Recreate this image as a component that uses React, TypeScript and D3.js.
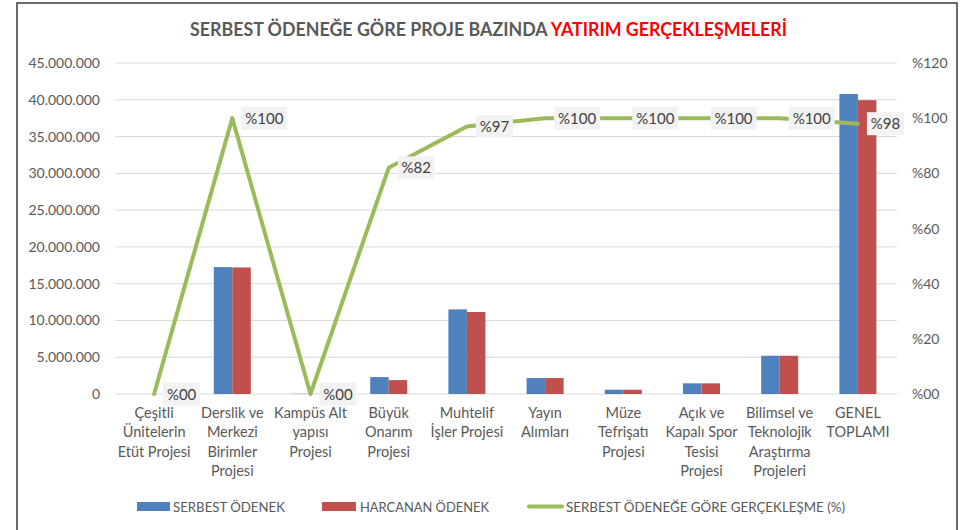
import React from "react";
import * as d3 from "d3";

const categories: string[][] = [
  ["Çeşitli", "Ünitelerin", "Etüt Projesi"],
  ["Derslik ve", "Merkezi", "Birimler", "Projesi"],
  ["Kampüs Alt", "yapısı", "Projesi"],
  ["Büyük", "Onarım", "Projesi"],
  ["Muhtelif", "İşler Projesi"],
  ["Yayın", "Alımları"],
  ["Müze", "Tefrişatı", "Projesi"],
  ["Açık ve", "Kapalı Spor", "Tesisi", "Projesi"],
  ["Bilimsel ve", "Teknolojik", "Araştırma", "Projeleri"],
  ["GENEL", "TOPLAMI"],
];
const serbestOdenek = [0, 17250000, 30000, 2300000, 11500000, 2170000, 580000, 1450000, 5200000, 40780000];
const harcananOdenek = [0, 17200000, 0, 1890000, 11150000, 2170000, 580000, 1450000, 5200000, 39950000];
const gerceklesme = [0, 100, 0, 82, 97, 100, 100, 100, 100, 98];
const leftTicks = [0, 5000000, 10000000, 15000000, 20000000, 25000000, 30000000, 35000000, 40000000, 45000000];
const rightTicks = [0, 20, 40, 60, 80, 100, 120];
const seriesNames = ["SERBEST ÖDENEK", "HARCANAN ÖDENEK", "SERBEST ÖDENEĞE GÖRE GERÇEKLEŞME (%)"];

const BLUE = "#4F81BD";
const RED = "#C0504D";
const GREEN = "#9BBB59";
const GRID = "#D9D9D9";
const TXT = "#595959";
const FONT = "Lato, 'Open Sans', sans-serif";

const fmt = d3.formatLocale({ decimal: ",", thousands: ".", grouping: [3], currency: ["", ""] }).format(",");
const pct = (v: number) => (v === 0 ? "%00" : "%" + v);

export default function App() {
  const W = 976, H = 530;
  const x0 = 115, x1 = 897, yT = 63, yB = 394;
  const idx = categories.map((_, i) => String(i));
  const x = d3.scaleBand<string>().domain(idx).range([x0, x1]).padding(0);
  const barGroup = 37;
  const xs = d3.scaleBand<string>().domain(["a", "b"]).range([0, barGroup]).padding(0);
  const yL = d3.scaleLinear().domain([0, 45000000]).range([yB, yT]);
  const yR = d3.scaleLinear().domain([0, 120]).range([yB, yT]);
  const cx = (i: number) => (x(String(i)) as number) + x.bandwidth() / 2;

  const line = d3.line<number>()
    .x((_, i) => cx(i))
    .y((d) => yR(d));

  return (
    <svg width={W} height={H} style={{ position: "absolute", left: 0, top: 0, background: "#fff" }} fontFamily={FONT}>
      <rect x={0} y={0} width={W} height={H} fill="#fff" />
      <rect x={17} y={3} width={940} height={560} fill="none" stroke="#3a3a3a" strokeWidth={1.5} />
      <text x={488.5} y={36} textAnchor="middle" fontSize={18} fontWeight={700} textLength={597} lengthAdjust="spacingAndGlyphs">
        <tspan fill={TXT}>SERBEST ÖDENEĞE GÖRE PROJE BAZINDA </tspan>
        <tspan fill="#FF0000">YATIRIM GERÇEKLEŞMELERİ</tspan>
      </text>

      {leftTicks.map((t) => (
        <g key={"g" + t}>
          <line x1={x0} x2={x1} y1={yL(t)} y2={yL(t)} stroke={GRID} strokeWidth={1} />
          <text x={100} y={yL(t) + 5} textAnchor="end" fontSize={14} fill={TXT}>{fmt(t)}</text>
        </g>
      ))}
      {rightTicks.map((t) => (
        <text key={"r" + t} x={912} y={yR(t) + 5} textAnchor="start" fontSize={14} fill={TXT}>{pct(t)}</text>
      ))}

      {categories.map((c, i) => {
        const bx = cx(i) - barGroup / 2;
        return (
          <g key={"b" + i}>
            <rect x={bx + (xs("a") as number)} y={yL(serbestOdenek[i])} width={xs.bandwidth()} height={yB - yL(serbestOdenek[i])} fill={BLUE} />
            <rect x={bx + (xs("b") as number)} y={yL(harcananOdenek[i])} width={xs.bandwidth()} height={yB - yL(harcananOdenek[i])} fill={RED} />
          </g>
        );
      })}

      <path d={line(gerceklesme) || ""} fill="none" stroke={GREEN} strokeWidth={4} strokeLinejoin="round" strokeLinecap="round" />

      {gerceklesme.map((v, i) => {
        const label = pct(v);
        const w = label.length * 9 + 10;
        const px = cx(i), py = yR(v);
        return (
          <g key={"l" + i}>
            <rect x={px + 9} y={py - 11.5} width={w} height={23} fill="#F2F2F2" />
            <text x={px + 9 + w / 2} y={py + 5.5} textAnchor="middle" fontSize={15} fill="#404040">{label}</text>
          </g>
        );
      })}

      {categories.map((c, i) => (
        <text key={"c" + i} textAnchor="middle" fontSize={14.5} fill={TXT}>
          {c.map((ln, j) => (
            <tspan key={j} x={cx(i)} y={418 + j * 19.3}>{ln}</tspan>
          ))}
        </text>
      ))}

      <g>
        <rect x={137} y={502} width={33} height={9} fill={BLUE} />
        <text x={173} y={511.5} fontSize={13.5} fill={TXT} textLength={112} lengthAdjust="spacingAndGlyphs">{seriesNames[0]}</text>
        <rect x={322} y={502} width={34} height={9} fill={RED} />
        <text x={360} y={511.5} fontSize={13.5} fill={TXT} textLength={129} lengthAdjust="spacingAndGlyphs">{seriesNames[1]}</text>
        <line x1={529} x2={562} y1={506.5} y2={506.5} stroke={GREEN} strokeWidth={4} strokeLinecap="round" />
        <text x={566} y={511.5} fontSize={13.5} fill={TXT} textLength={279} lengthAdjust="spacingAndGlyphs">{seriesNames[2]}</text>
      </g>
    </svg>
  );
}
